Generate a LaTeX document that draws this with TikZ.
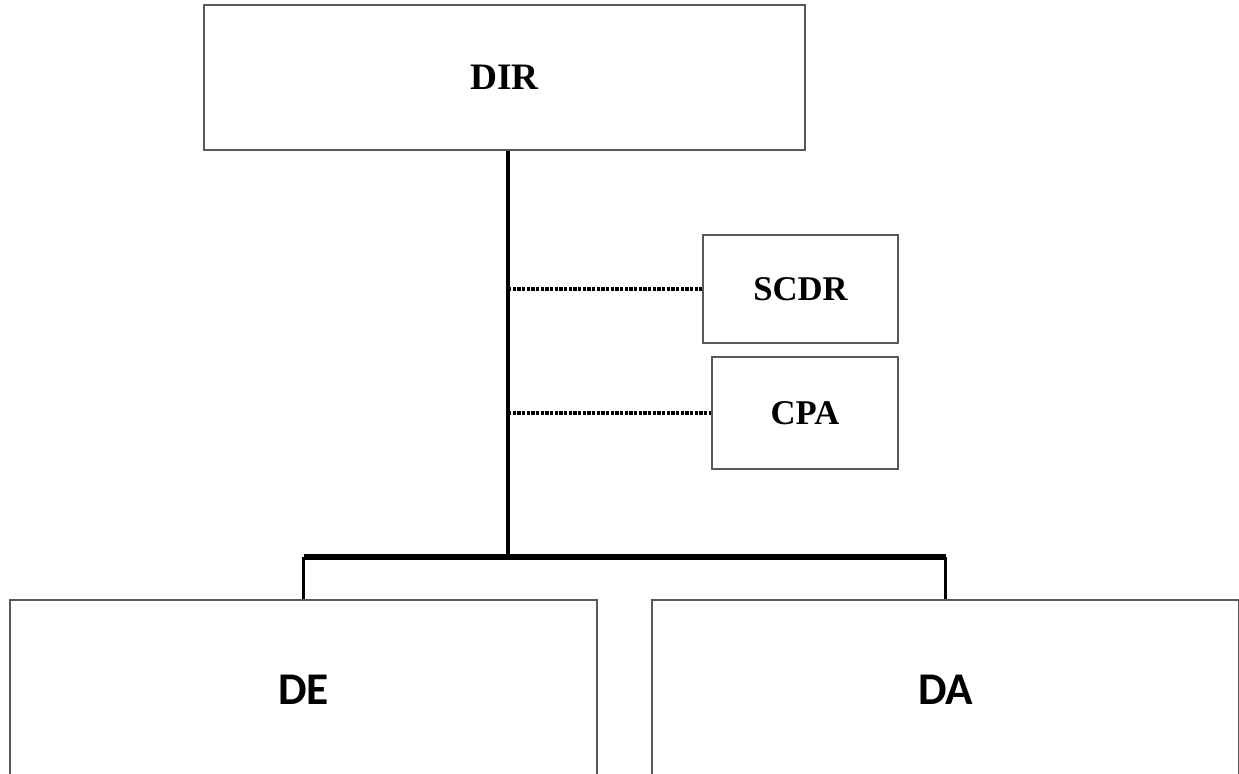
\documentclass[tikz,border=0pt]{standalone}
\usepackage{fontspec}
\newfontfamily\timesfont{Liberation Serif}
\newfontfamily\calibrifont{Carlito}
\usetikzlibrary{shadows}
\begin{document}
\begin{tikzpicture}[
    x=0.75pt, y=-0.75pt,
    box/.style={draw=black!65, line width=0.8pt, fill=white, inner sep=0pt,
      drop shadow={shadow xshift=0.8pt, shadow yshift=-0.8pt, opacity=0.35}},
    toplabel/.style={font=\timesfont\bfseries\fontsize{28}{30}\selectfont},
    sidelabel/.style={font=\timesfont\bfseries\fontsize{26}{28}\selectfont},
    unitlabel/.style={font=\calibrifont\bfseries\fontsize{34}{36}\selectfont},
    mainline/.style={line width=3pt},
    barline/.style={line width=3.8pt},
    dropline/.style={line width=2.3pt},
    dotline/.style={line width=3pt, dash pattern=on 2.5pt off 1pt}
  ]
    \useasboundingbox (0,0) rectangle (1239,774);
    \clip (0,0) rectangle (1239,774);
    % boxes
    \node[box, toplabel, minimum width=450.75pt, minimum height=108.75pt]
      (dir) at (504.5,77.5) {DIR};
    \node[box, sidelabel, minimum width=146.25pt, minimum height=81pt]
      (scdr) at (800.5,289) {SCDR};
    \node[box, sidelabel, minimum width=139.5pt, minimum height=84pt]
      (cpa) at (805,413) {CPA};
    \node[box, unitlabel, minimum width=440.25pt, minimum height=135pt]
      (de) at (303.5,690) {DE};
    \node[box, unitlabel, minimum width=440.25pt, minimum height=135pt]
      (da) at (945.5,690) {DA};
    % connectors
    \coordinate (fork) at (508,557);
    \draw[mainline] (dir.south -| fork) -- (fork);
    \draw[dotline] (scdr.west -| fork) -- (scdr.west);
    \draw[dotline] (cpa.west -| fork) -- (cpa.west);
    \draw[barline] (de.north |- fork) -- (da.north |- fork);
    \draw[dropline] (de.north |- fork) -- (de.north);
    \draw[dropline] (da.north |- fork) -- (da.north);
\end{tikzpicture}
\end{document}
